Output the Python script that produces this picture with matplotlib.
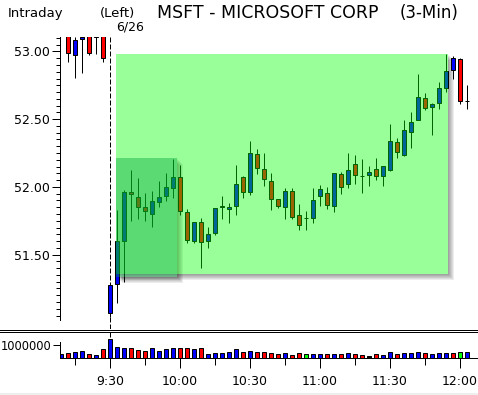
import numpy as np
import matplotlib
matplotlib.use("Agg")
import matplotlib.pyplot as plt
from matplotlib.patches import Rectangle
from matplotlib.lines import Line2D

# barras de 3 minutos, indice 0 = 9:30 de 6/26 (negativos = fim do pregao anterior)
idx = list(range(-7, 52))

opens = [np.nan, 53.12, 52.974, 53.09, 53.12, 53.11, 53.12,
         51.067, 51.283, 51.60, 51.96, 51.923, 51.85, 51.80, 51.886, 51.93, 51.994,
         52.073, 51.815, 51.602, 51.738, 51.598, 51.662, 51.855, 51.835, 51.857, 52.073,
         51.965, 52.243, 52.132, 52.04, 51.911, 51.85, 51.97, 51.79, 51.768, 51.768,
         51.93, 51.953, 51.861, 52.093, 52.019, 52.167, 52.078, 52.086, 52.13, 52.078,
         52.127, 52.329, 52.236, 52.408, 52.496, 52.654, 52.592, 52.617, 52.733, 52.861,
         52.945, 52.632]
highs = [np.nan, 53.14, 53.11, 53.12, 53.13, 53.13, 53.13,
         51.275, 51.83, 51.98, 52.125, 52.064, 51.957, 51.972, 52.04, 52.10, 52.206,
         52.162, 51.839, 51.74, 51.768, 51.702, 51.842, 51.933, 51.881, 52.165, 52.08,
         52.339, 52.28, 52.25, 52.103, 51.911, 51.994, 51.994, 51.874, 51.822, 51.99,
         52.014, 51.997, 52.10, 52.11, 52.25, 52.236, 52.206, 52.154, 52.213, 52.152,
         52.462, 52.359, 52.494, 52.553, 52.834, 52.693, 52.62, 52.775, 52.98, 52.969,
         52.954, 52.755]
lows = [np.nan, 52.925, 52.804, 52.84, 52.974, 52.98, 52.92,
        51.041, 51.145, 51.30, 51.75, 51.763, 51.748, 51.706, 51.85, 51.895, 51.92,
        51.79, 51.583, 51.588, 51.40, 51.547, 51.647, 51.76, 51.731, 51.79, 51.92,
        51.938, 52.097, 52.007, 51.827, 51.842, 51.76, 51.76, 51.684, 51.684, 51.736,
        51.857, 51.839, 51.817, 51.948, 51.994, 52.019, 51.957, 52.009, 52.049, 52.009,
        52.12, 52.211, 52.228, 52.29, 52.496, 52.57, 52.385, 52.578, 52.70, 52.80,
        52.61, 52.578]
closes = [np.nan, 52.987, 53.085, 53.105, 52.987, 53.115, 52.95,
          51.275, 51.60, 51.96, 51.945, 51.854, 51.825, 51.895, 51.923, 52.00, 52.073,
          51.82, 51.608, 51.738, 51.595, 51.65, 51.842, 51.858, 51.851, 52.021, 51.96,
          52.25, 52.137, 52.056, 51.908, 51.857, 51.97, 51.775, 51.716, 51.768, 51.90,
          51.982, 51.864, 52.10, 52.00, 52.123, 52.086, 52.078, 52.108, 52.078, 52.152,
          52.339, 52.255, 52.42, 52.477, 52.664, 52.585, 52.612, 52.728, 52.856, 52.95,
          52.637, 52.632]

volume = [0.31, 0.41, 0.46, 0.56, 0.33, 0.26, 0.69,
          1.49, 0.87, 0.79, 0.79, 0.64, 0.54, 0.79, 0.56, 0.72, 0.79,
          0.79, 0.79, 0.70, 0.77, 0.31, 0.38, 0.38, 0.46, 0.69, 0.46,
          0.54, 0.46, 0.46, 0.38, 0.31, 0.38, 0.23, 0.38, 0.31, 0.31,
          0.31, 0.31, 0.31, 0.31, 0.38, 0.31, 0.23, 0.15, 0.31, 0.23,
          0.46, 0.31, 0.38, 0.38, 0.46, 0.38, 0.31, 0.38, 0.38, 0.38,
          0.46, 0.46]
volume = [v * 1e6 for v in volume]
# u = alta, d = baixa, n = sem variacao, z = zerado
vol_dir = list("udu" "udud" "uuuddduuuu" "ddudu" "uuuud" "uddddudd" "nuudud" "uddzdu"
               "udu" "uudu" "uudn")

tick_major = [0, 10, 20, 30, 40, 50]
tick_labels = ["9:30", "10:00", "10:30", "11:00", "11:30", "12:00"]
tick_minor = [-5, 5, 15, 25, 35, 45]

# caixas verdes (x em barras, y em preco)
caixa_grande = (0.86, 48.3, 51.357, 52.982)
caixa_menor = (0.86, 9.64, 51.337, 52.211)

plt.rcParams["font.family"] = ["DejaVu Sans"]
fs = 9

W, H = 478, 395
fig = plt.figure(figsize=(W / 100, H / 100), dpi=100)
LW = 0.72
px = 1 / 7.0
py = 0.5 / 67.7

ax = fig.add_axes([60 / W, 1 - 329 / H, (W - 60) / W, (329 - 37) / H])
vax = fig.add_axes([60 / W, 1 - 358 / H, (W - 60) / W, (358 - 331) / H])

x0, x1 = (60 - 110) / 7, (W - 110) / 7
y_top = 53.107
y_bot = y_top - (329 - 37) * py
ax.set_xlim(x0, x1)
ax.set_ylim(y_bot, y_top)

o = np.array(opens)
c = np.array(closes)
up = c >= o
body_col = ["#0000FF" if u else "#FF0000" for u in up]

ax.vlines(idx, lows, highs, color="black", lw=LW, zorder=2)
ax.bar(idx, np.abs(c - o), bottom=np.minimum(o, c), width=0.62, color=body_col,
       edgecolor="black", lw=LW, zorder=3)
ax.axvline(0, color="black", lw=LW, ls=(0, (5, 2)), zorder=1.5)


def sombra(a, bx):
    xa, xb, ya, yb = bx
    for k in range(1, 7):
        a.add_patch(Rectangle((xb, ya - k * py), k * px, yb - ya, fc="black",
                              alpha=0.07, ec="none", zorder=1))
        a.add_patch(Rectangle((xa + k * px, ya - k * py), xb - xa - k * px, k * py,
                              fc="black", alpha=0.07, ec="none", zorder=1))


sombra(ax, caixa_grande)
sombra(ax, caixa_menor)
xa, xb, ya, yb = caixa_grande
ax.add_patch(Rectangle((xa, ya), xb - xa, yb - ya, fc="#00FF00", alpha=0.4, ec="none", zorder=5))
xa, xb, ya, yb = caixa_menor
ax.add_patch(Rectangle((xa, ya), xb - xa, yb - ya, fc="#00A03C", alpha=0.4, ec="none", zorder=6))

for s in ["top", "right", "bottom"]:
    ax.spines[s].set_visible(False)
ax.spines["left"].set_linewidth(LW)
ax.spines["left"].set_bounds(51.02, y_top)
ax.set_yticks([51.5, 52.0, 52.5, 53.0])
ax.set_yticklabels(["51.50", "52.00", "52.50", "53.00"], fontsize=fs)
ax.set_yticks(np.arange(51.05, 53.11, 0.05), minor=True)
ax.tick_params(axis="y", which="major", length=5.8, width=LW, pad=1.5)
ax.tick_params(axis="y", which="minor", length=2.9, width=LW)
ax.tick_params(axis="x", which="both", bottom=False, labelbottom=False)

# volume
vcores = {"u": "#0000FF", "d": "#FF0000", "n": "#00FF00", "z": "#000000"}
vax.set_xlim(x0, x1)
vax.set_ylim(0, (358 - 331) / 13 * 1e6)
vax.axvline(0, color="black", lw=LW, ls=(0, (5, 2)), zorder=1)
vax.bar(idx, volume, width=0.67, color=[vcores[d] for d in vol_dir],
        edgecolor="black", lw=LW, zorder=2)
for s in ["top", "right"]:
    vax.spines[s].set_visible(False)
vax.spines["left"].set_linewidth(LW)
vax.spines["bottom"].set_linewidth(LW)
vax.spines["left"].set_bounds(0, 1.25e6)
vax.set_yticks([1e6])
vax.set_yticklabels(["1000000"], fontsize=8.3)
vax.tick_params(axis="y", length=5, width=LW, pad=1)
vax.set_xticks(tick_major)
vax.set_xticklabels(tick_labels, fontsize=fs)
vax.set_xticks(tick_minor, minor=True)
vax.tick_params(axis="x", which="major", length=7.2, width=LW, pad=5)
vax.tick_params(axis="x", which="minor", length=5, width=LW)

for yy in [329.5, 331.5]:
    fig.add_artist(Line2D([0, 1], [1 - yy / H] * 2, transform=fig.transFigure,
                          color="black", lw=LW))
fig.patches.append(Rectangle((0, 0), 1, 2.5 / H, transform=fig.transFigure,
                             fc="#EEEEEE", ec="none"))

fig.text(8 / W, 1 - 13 / H, "Intraday", fontsize=9.5, va="center", ha="left")
fig.text(100 / W, 1 - 13 / H, "(Left)", fontsize=9.5, va="center", ha="left")
fig.text(157 / W, 1 - 13 / H, "MSFT - MICROSOFT CORP", fontsize=12.5,
         va="center", ha="left")
fig.text(400 / W, 1 - 13 / H, "(3-Min)", fontsize=12, va="center", ha="left")
fig.text(130 / W, 1 - 27 / H, "6/26", fontsize=fs, va="center", ha="center")

fig.savefig("out.png", dpi=100)
